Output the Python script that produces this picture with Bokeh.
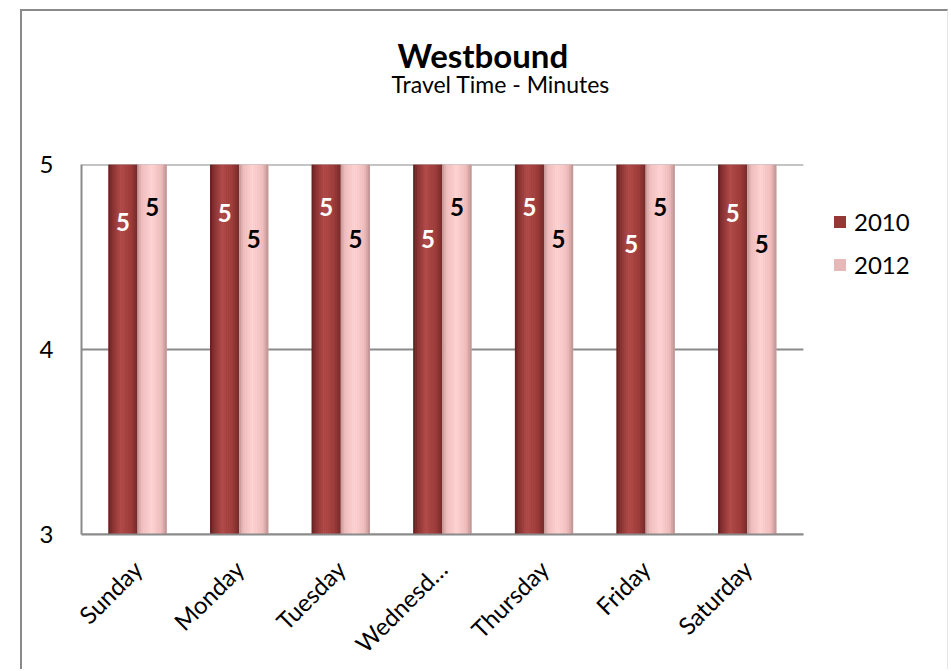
import math

from bokeh.core.properties import value
from bokeh.embed import file_html
from bokeh.models import ColumnDataSource, FixedTicker, Legend, LegendItem, Range1d, Title
from bokeh.plotting import figure
from bokeh.resources import INLINE
from bokeh.transform import dodge

# ---- data -------------------------------------------------------------
days = ["Sunday", "Monday", "Tuesday", "Wednesd\u2026", "Thursday", "Friday", "Saturday"]
minutes_2010 = [5.24, 5.29, 5.32, 5.15, 5.32, 5.12, 5.29]
minutes_2012 = [5.32, 5.15, 5.15, 5.32, 5.15, 5.32, 5.12]
series_names = ["2010", "2012"]
y_ticks = [3, 4, 5]

# ---- styling ----------------------------------------------------------
FONT = "Lato"
GRID = "#8a8a8a"
BAR_W = 0.286
STRIPS = 16
LABEL_DROP = 0.55
PAD = 0.052                        # space between the outer categories and the plot edges
X_START = -0.5 - PAD
CAT_END = len(days) - 0.5 + PAD
X_END = 8.0                        # room on the right for the legend

# cylinder-like shading stops (position, colour) for each series
STOPS = {
    "2010": [(0.0, "#5c1d1d"), (0.12, "#853030"), (0.42, "#b24c4a"), (0.78, "#9c3c3a"), (1.0, "#722a2a")],
    "2012": [(0.0, "#bf9494"), (0.14, "#efbcbc"), (0.48, "#ffd4d4"), (0.82, "#f0bcbc"), (1.0, "#b99090")],
}
SOLID = {"2010": "#953735", "2012": "#e6b9b8"}
TEXT = {"2010": "white", "2012": "black"}


def hex_to_rgb(h):
    h = h.lstrip("#")
    return tuple(int(h[i:i + 2], 16) for i in (0, 2, 4))


def color_at(stops, t):
    for (t0, c0), (t1, c1) in zip(stops, stops[1:]):
        if t0 <= t <= t1:
            f = (t - t0) / (t1 - t0)
            a, b = hex_to_rgb(c0), hex_to_rgb(c1)
            return "#%02x%02x%02x" % tuple(round(x + (y - x) * f) for x, y in zip(a, b))
    return stops[-1][1]


positions = list(range(len(days)))
src = ColumnDataSource(dict(
    pos=positions,
    v2010=minutes_2010,
    v2012=minutes_2012,
    ly2010=[v - LABEL_DROP for v in minutes_2010],
    ly2012=[v - LABEL_DROP for v in minutes_2012],
    lbl2010=[f"{v:.0f}" for v in minutes_2010],
    lbl2012=[f"{v:.0f}" for v in minutes_2012],
))
grid_src = ColumnDataSource(dict(y=y_ticks, x0=[X_START] * len(y_ticks), x1=[CAT_END] * len(y_ticks)))

p = figure(
    x_range=Range1d(X_START, X_END),
    y_range=Range1d(3, 5),
    width=928, height=660,
    output_backend="svg", toolbar_location=None,
    min_border_left=59, min_border_top=153, min_border_right=0, min_border_bottom=130,
)
p.styles = {
    "margin-left": "20px",
    "margin-top": "9px",
    "border-left": "2px solid #8a8a8a",
    "border-top": "2px solid #8a8a8a",
    "border-right": "1px solid #e4e4e4",
}
p.outline_line_color = None
p.background_fill_color = "white"
p.border_fill_color = "white"

# ---- titles (stacked upward from the plot area) ----------------------
p.add_layout(Title(text=" ", text_font_size="10px", standoff=54), "above")
p.add_layout(Title(text="Travel Time - Minutes", align="left", offset=310, text_font=FONT,
                   text_font_size="23px", text_font_style="normal", text_color="black",
                   standoff=0), "above")
p.add_layout(Title(text="Westbound", align="left", offset=316, text_font=FONT,
                   text_font_size="33px", text_font_style="bold", text_color="black",
                   standoff=-14), "above")

# ---- horizontal grid lines, limited to the category area -------------
p.segment(x0="x0", y0="y", x1="x1", y1="y", source=grid_src,
          line_color=GRID, line_width=2, level="underlay")

# ---- bars -------------------------------------------------------------
items = []
for k, name in enumerate(series_names):
    col = "v" + name
    offset = (-0.5 + k) * BAR_W
    base = p.vbar(x=dodge("pos", offset), top=col, bottom=3, width=BAR_W,
                  fill_color=SOLID[name], line_color=None, source=src)
    sw = BAR_W / STRIPS
    for i in range(STRIPS):
        t = (i + 0.5) / STRIPS
        p.vbar(x=dodge("pos", offset - BAR_W / 2 + (i + 0.5) * sw),
               top=col, bottom=3, width=sw * 1.1,
               fill_color=color_at(STOPS[name], t), line_color=None, source=src)
    p.text(x=dodge("pos", offset), y="ly" + name, text="lbl" + name, source=src,
           text_color=TEXT[name], text_font=value(FONT), text_font_style="bold",
           text_font_size="24px", text_align="center", text_baseline="middle")
    items.append(LegendItem(label=name, renderers=[base]))

# ---- axes -------------------------------------------------------------
p.xgrid.grid_line_color = None
p.ygrid.grid_line_color = None
p.yaxis.ticker = FixedTicker(ticks=y_ticks)
p.xaxis.ticker = FixedTicker(ticks=positions)
p.xaxis.major_label_overrides = {i: d for i, d in zip(positions, days)}
p.xaxis.bounds = (X_START, CAT_END)

for ax in (p.xaxis, p.yaxis):
    ax.axis_line_color = GRID
    ax.axis_line_width = 2
    ax.major_tick_line_color = None
    ax.minor_tick_line_color = None
    ax.major_label_text_font = FONT
    ax.major_label_text_font_size = "24px"
    ax.major_label_text_color = "black"

p.yaxis.major_label_standoff = 22
p.xaxis.major_label_orientation = math.pi / 4
p.xaxis.major_label_standoff = 24

# ---- legend -----------------------------------------------------------
legend = Legend(items=items, location=(751, 255), orientation="vertical", padding=0, margin=0,
                spacing=14, glyph_width=15, glyph_height=15, label_height=24, label_standoff=7,
                label_text_font=FONT, label_text_font_size="24px", label_text_color="black",
                border_line_color=None, background_fill_alpha=0)
p.add_layout(legend)

open("out.html", "w").write(file_html(p, INLINE))
